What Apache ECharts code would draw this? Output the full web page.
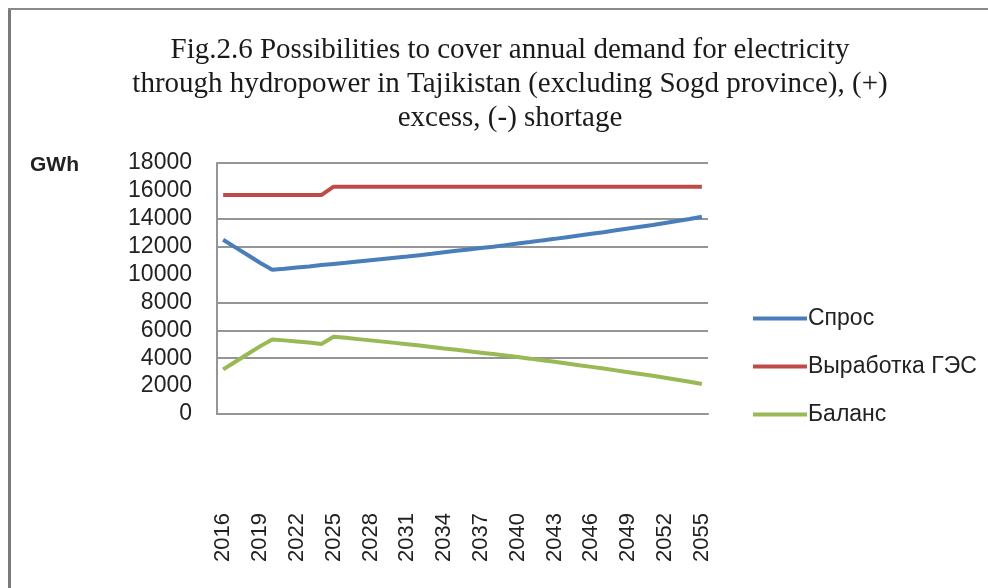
<!DOCTYPE html>
<html>
<head>
<meta charset="utf-8">
<script src="https://cdn.jsdelivr.net/npm/echarts@6/dist/echarts.min.js"></script>
<style>
  html, body { margin: 0; padding: 0; background: #fff; }
  #chart { width: 988px; height: 588px; }
</style>
</head>
<body>
<div id="chart"></div>
<script>
// years on the category axis
const years = [];
for (let y = 2016; y <= 2055; y++) years.push(String(y));

// demand (Спрос), GWh
const demand = [
  12500, 11950, 11400, 10850, 10350, 10420, 10500, 10580, 10680, 10760,
  10840, 10930, 11020, 11110, 11200, 11290, 11390, 11490, 11600, 11700,
  11800, 11900, 12000, 12110, 12220, 12330, 12450, 12560, 12680, 12800,
  12920, 13040, 13170, 13300, 13430, 13560, 13700, 13840, 13990, 14150
];

// hydropower output (Выработка ГЭС), GWh
const hydro = [
  15700, 15700, 15700, 15700, 15700, 15700, 15700, 15700, 15700, 16300,
  16300, 16300, 16300, 16300, 16300, 16300, 16300, 16300, 16300, 16300,
  16300, 16300, 16300, 16300, 16300, 16300, 16300, 16300, 16300, 16300,
  16300, 16300, 16300, 16300, 16300, 16300, 16300, 16300, 16300, 16300
];

// balance (Баланс), GWh
const balance = [
  3200, 3750, 4300, 4850, 5350, 5280, 5200, 5120, 5020, 5540,
  5460, 5370, 5280, 5190, 5100, 5010, 4910, 4810, 4700, 4600,
  4500, 4400, 4300, 4190, 4080, 3970, 3850, 3740, 3620, 3500,
  3380, 3260, 3130, 3000, 2870, 2740, 2600, 2460, 2310, 2150
];

const seriesNames = ['Спрос', 'Выработка ГЭС', 'Баланс'];
const colors = ['#4a7ebb', '#be4b48', '#98b954'];

const chart = echarts.init(document.getElementById('chart'));

const gridColor = '#959595';

chart.setOption({
  backgroundColor: '#fff',
  animation: false,
  color: colors,
  title: {
    text: 'Fig.2.6 Possibilities to cover annual demand for electricity\nthrough hydropower in Tajikistan (excluding Sogd province), (+)\nexcess, (-) shortage',
    left: 505,
    textAlign: 'center',
    top: 28,
    textStyle: {
      fontFamily: 'Liberation Serif',
      fontWeight: 'normal',
      fontSize: 29,
      lineHeight: 34,
      color: '#1a1a1a'
    }
  },
  legend: {
    orient: 'vertical',
    left: 748,
    top: 302,
    itemWidth: 54,
    itemHeight: 4,
    itemGap: 25,
    icon: 'rect',
    textStyle: { fontFamily: 'Liberation Sans', fontSize: 23, color: '#222', padding: [0, 0, 0, -4] },
    data: seriesNames
  },
  grid: { left: 217, right: 280, top: 163, bottom: 174 },
  xAxis: {
    type: 'category',
    data: years,
    boundaryGap: true,
    axisLine: { lineStyle: { color: gridColor, width: 2 } },
    axisTick: { show: false },
    axisLabel: {
      interval: 2,
      rotate: 90,
      margin: 99,
      fontFamily: 'Liberation Sans',
      fontSize: 22,
      color: '#222'
    }
  },
  yAxis: {
    type: 'value',
    min: 0,
    max: 18000,
    interval: 2000,
    axisLine: { show: true, lineStyle: { color: gridColor, width: 2 } },
    axisTick: { show: false },
    axisLabel: {
      margin: 25,
      fontFamily: 'Liberation Sans',
      fontSize: 23,
      color: '#222',
      formatter: (v) => String(v)
    },
    splitLine: {
      show: true,
      lineStyle: {
        width: 2,
        // some gridlines are faded out in the original scan
        color: [gridColor, 'rgba(0,0,0,0)', gridColor, gridColor, gridColor,
                'rgba(0,0,0,0)', gridColor, gridColor, 'rgba(0,0,0,0)', gridColor]
      }
    }
  },
  graphic: [
    { type: 'rect', shape: { x: 8, y: 8, width: 3, height: 600 }, style: { fill: '#7a7a7a' } },
    { type: 'rect', shape: { x: 8, y: 8, width: 990, height: 2 }, style: { fill: '#8a8a8a' } },
    {
      type: 'text', left: 30, top: 155,
      style: { text: 'GWh', font: 'bold 21px "Liberation Sans"', fill: '#222' }
    }
  ],
  series: [
    { name: seriesNames[0], type: 'line', data: demand, symbol: 'none', lineStyle: { width: 4 } },
    { name: seriesNames[1], type: 'line', data: hydro, symbol: 'none', lineStyle: { width: 4 } },
    { name: seriesNames[2], type: 'line', data: balance, symbol: 'none', lineStyle: { width: 4 } }
  ]
});
</script>
</body>
</html>
